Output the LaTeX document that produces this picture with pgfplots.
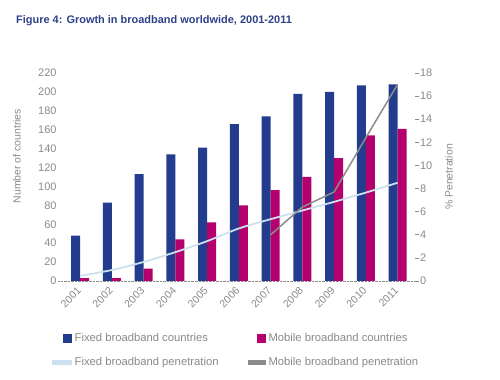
\documentclass[border=0pt]{standalone}
\usepackage{pgfplots}
\pgfplotsset{compat=1.18}
\usepackage{fontspec}
\setmainfont{Liberation Sans}
\definecolor{fixedblue}{HTML}{233C8E}
\definecolor{mobilepink}{HTML}{B3006C}
\definecolor{fixedline}{HTML}{CCE0EE}
\definecolor{mobilegray}{HTML}{8C8C8C}
\definecolor{titleblue}{HTML}{2F4189}
\definecolor{tickgray}{HTML}{8A8A8A}
\begin{document}
\begin{tikzpicture}
\path[use as bounding box] (0,0) rectangle (500bp,380bp);
\node[anchor=base west, font=\bfseries\fontsize{11}{13}\selectfont, text=titleblue, inner sep=0pt] at (16bp,356bp) {Figure 4: Growth in broadband worldwide, 2001-2011};
\begin{axis}[
  at={(58bp,99bp)}, anchor=south west, scale only axis,
  width=357bp, height=208bp,
  xmin=2000.3, xmax=2011.55, ymin=0, ymax=220,
  ybar=0pt, bar width=9bp,
  axis x line*=bottom, axis y line*=left,
  x axis line style={draw=tickgray, densely dotted, -},
  y axis line style={draw=none},
  xtick={2001,...,2011}, ytick={0,20,...,220},
  x tick style={draw=none}, y tick style={draw=none},
  /pgf/number format/1000 sep={},
  /pgf/number format/assume math mode=true,
  tick label style={font=\fontsize{11}{12}\selectfont, text=tickgray},
  xticklabel style={rotate=45, anchor=east, yshift=-2bp, font=\fontsize{10.5}{12}\selectfont},
  yticklabel style={xshift=2bp},
  ylabel={Number of countries},
  ylabel style={at={(axis description cs:-0.115,0.6)}, anchor=center, font=\fontsize{10.5}{12}\selectfont, text=tickgray},
  legend columns=2, legend cell align=left,
  legend style={draw=none, inner sep=0pt, at={(axis description cs:-0.017,-0.25)}, anchor=north west, font=\fontsize{11.3}{13}\selectfont, text=tickgray,
    nodes={inner xsep=2.5bp, inner ysep=0.5bp},
    /tikz/every even column/.append style={column sep=25bp}, row sep=13bp},
]
\addplot[fill=fixedblue, draw=none, legend image code/.code={\path[draw=none,fill=none] (0bp,0bp) rectangle (20bp,0bp); \fill[fixedblue,draw=none] (11bp,-4.5bp) rectangle (20bp,4.5bp);}] coordinates {(2001,48) (2002,83) (2003,113) (2004,134) (2005,141) (2006,166) (2007,174) (2008,198) (2009,200) (2010,207) (2011,208)};
\addlegendentry{Fixed broadband countries}
\addplot[fill=mobilepink, draw=none, legend image code/.code={\path[draw=none,fill=none] (0bp,0bp) rectangle (20bp,0bp); \fill[mobilepink,draw=none] (11bp,-4.5bp) rectangle (20bp,4.5bp);}] coordinates {(2001,3) (2002,3) (2003,13) (2004,44) (2005,62) (2006,80) (2007,96) (2008,110) (2009,130) (2010,154) (2011,161)};
\addlegendentry{Mobile broadband countries}
\addlegendimage{legend image code/.code={\fill[fixedline,draw=none] (0bp,-2.5bp) rectangle (20bp,2.5bp);}}
\addlegendentry{Fixed broadband penetration}
\addlegendimage{legend image code/.code={\path[draw=none,fill=none] (0bp,0bp) rectangle (20bp,0bp); \fill[mobilegray,draw=none] (2bp,-2.5bp) rectangle (20bp,2.5bp);}}
\addlegendentry{Mobile broadband penetration}
\end{axis}
\begin{axis}[
  at={(58bp,99bp)}, anchor=south west, scale only axis,
  width=357bp, height=208bp,
  xmin=2000.3, xmax=2011.55, ymin=0, ymax=18,
  axis x line=none, axis y line*=right,
  y axis line style={draw=none},
  ytick={0,2,...,18},
  y tick style={draw=tickgray, line width=0.6bp},
  major tick length=4bp, tick align=outside,
  /pgf/number format/assume math mode=true,
  tick label style={font=\fontsize{11}{12}\selectfont, text=tickgray},
  yticklabel style={xshift=-2.5bp},
  ylabel={\% Penetration},
  ylabel style={at={(axis description cs:1.095,0.5)}, anchor=center, font=\fontsize{10.5}{12}\selectfont, text=tickgray},
]
\addplot[fixedline, line width=1.8bp, smooth] coordinates {(2001,0.45) (2002,0.95) (2003,1.65) (2004,2.5) (2005,3.45) (2006,4.55) (2007,5.35) (2008,6.1) (2009,6.85) (2010,7.65) (2011,8.5)};
\addplot[mobilegray, line width=1.5bp] coordinates {(2007,4.0) (2008,6.4) (2009,7.7) (2010,12.4) (2011,17.0)};
\end{axis}
\end{tikzpicture}
\end{document}
